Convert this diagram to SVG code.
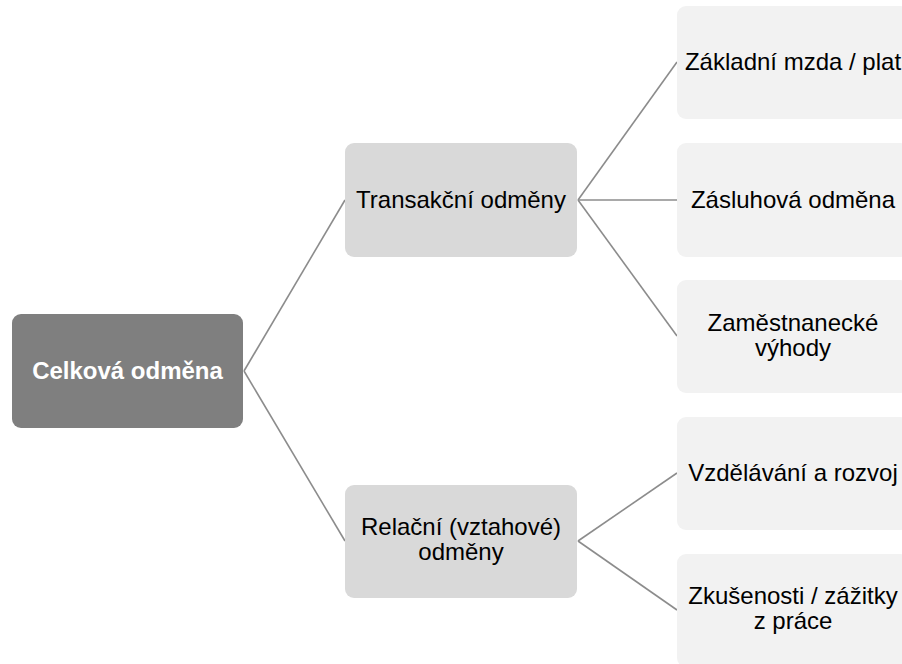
<svg xmlns="http://www.w3.org/2000/svg" width="902" height="664" viewBox="0 0 902 664">
<style>
text{font-family:"Liberation Sans",Arial,sans-serif;font-size:24px;text-anchor:middle;fill:#000}
.root rect{fill:#7f7f7f}
.root text{fill:#fff;font-weight:bold}
.mid rect{fill:#d9d9d9}
.leaf rect{fill:#f2f2f2}
.con line{stroke:#8c8c8c;stroke-width:1.6}
</style>
<rect width="902" height="664" fill="#fff"/>
<g class="con">
<line x1="244" y1="371" x2="345" y2="200"/>
<line x1="244" y1="371" x2="345" y2="541"/>
<line x1="578" y1="200" x2="677" y2="62"/>
<line x1="578" y1="200" x2="677" y2="200"/>
<line x1="578" y1="200" x2="677" y2="336"/>
<line x1="578" y1="541" x2="677" y2="473"/>
<line x1="578" y1="541" x2="677" y2="610"/>
</g>
<g id="root" class="root"><rect x="12" y="314" width="231" height="114" rx="9"/><text x="127.5" y="379">Celková odměna</text></g>
<g id="transakcni" class="mid"><rect x="345" y="143" width="232" height="114" rx="9"/><text x="461" y="208">Transakční odměny</text></g>
<g id="relacni" class="mid"><rect x="345" y="485" width="232" height="113" rx="9"/><text x="461" y="535">Relační (vztahové)</text><text x="461" y="560">odměny</text></g>
<g id="zakladni" class="leaf"><rect x="677" y="6" width="232" height="113" rx="9"/><text x="793" y="70">Základní mzda / plat</text></g>
<g id="zasluhova" class="leaf"><rect x="677" y="143" width="232" height="114" rx="9"/><text x="793" y="208">Zásluhová odměna</text></g>
<g id="vyhody" class="leaf"><rect x="677" y="280" width="232" height="113" rx="9"/><text x="793" y="331">Zaměstnanecké</text><text x="793" y="356">výhody</text></g>
<g id="vzdelavani" class="leaf"><rect x="677" y="417" width="232" height="113" rx="9"/><text x="793" y="481">Vzdělávání a rozvoj</text></g>
<g id="zkusenosti" class="leaf"><rect x="677" y="554" width="232" height="113" rx="9"/><text x="793" y="604">Zkušenosti / zážitky</text><text x="793" y="629">z práce</text></g>
</svg>
